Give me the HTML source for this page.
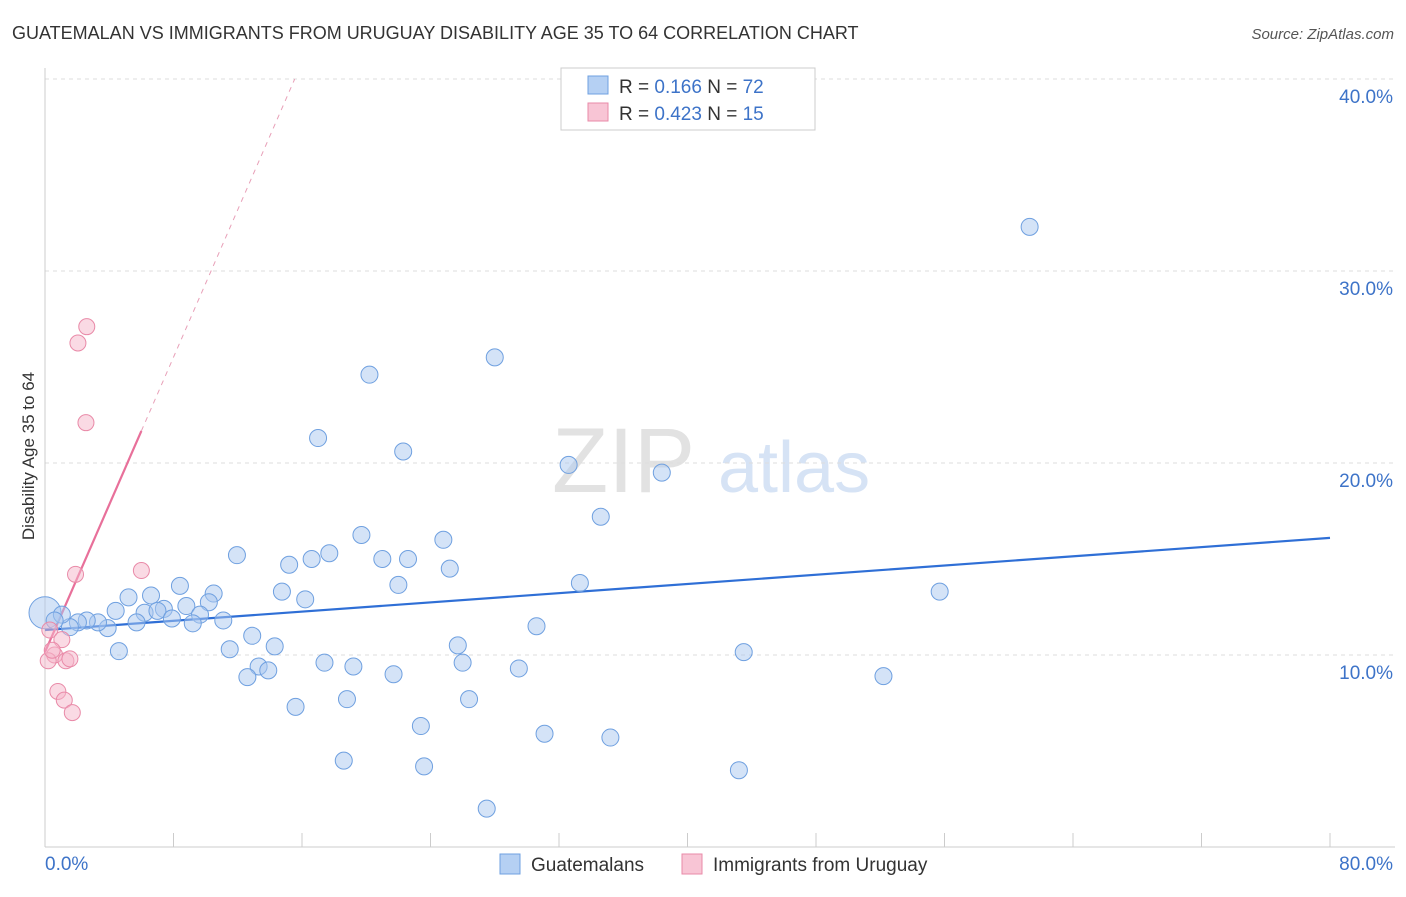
<!DOCTYPE html>
<html><head><meta charset="utf-8"><style>
body{margin:0;background:#fff;font-family:"Liberation Sans",sans-serif;}
svg text{font-family:"Liberation Sans",sans-serif;}
</style></head><body>
<svg id="chart" width="1406" height="892" xmlns="http://www.w3.org/2000/svg">
<text x="12" y="39" font-size="18" fill="#333">GUATEMALAN VS IMMIGRANTS FROM URUGUAY DISABILITY AGE 35 TO 64 CORRELATION CHART</text>
<text x="1394" y="39" font-size="15" fill="#555" text-anchor="end" font-style="italic">Source: ZipAtlas.com</text>
<g>
<text x="552" y="492" font-size="92" fill="#e2e2e2" font-family="Liberation Serif,serif">ZIP</text>
<text x="718" y="492" font-size="72" fill="#d6e3f5">atlas</text>
</g>
<g id="grid"></g>
<g id="axes"></g>
<g id="lines"></g>
<g id="points"></g>
<text transform="translate(34,456) rotate(-90)" font-size="17" fill="#333" text-anchor="middle">Disability Age 35 to 64</text>
<g>
<rect x="561" y="68" width="254" height="62" fill="#fff" stroke="#ccc"/>
<rect x="588" y="76" width="20" height="18" fill="#b5d0f3" stroke="#6fa0e0"/>
<rect x="588" y="103" width="20" height="18" fill="#f8c5d5" stroke="#e98aa8"/>
<text x="619" y="93" font-size="19" fill="#333">R = <tspan fill="#3d73c8">0.166</tspan>   N = <tspan fill="#3d73c8">72</tspan></text>
<text x="619" y="120" font-size="19" fill="#333">R = <tspan fill="#3d73c8">0.423</tspan>   N = <tspan fill="#3d73c8">15</tspan></text>
</g>
<g>
<rect x="500" y="854" width="20" height="20" fill="#b5d0f3" stroke="#6fa0e0"/>
<text x="531" y="871" font-size="19" fill="#333">Guatemalans</text>
<rect x="682" y="854" width="20" height="20" fill="#f8c5d5" stroke="#e98aa8"/>
<text x="713" y="871" font-size="19" fill="#333">Immigrants from Uruguay</text>
</g>
</svg>
<script>
const blueX=[61.3,28.0,20.2,17.0,22.3,32.6,38.4,34.6,19.7,24.8,11.95,17.7,16.6,15.2,21.0,22.6,25.2,33.3,22.0,8.4,14.75,10.5,55.7,16.2,5.2,6.6,10.2,4.4,6.2,7.4,8.8,7.0,7.9,9.65,11.1,5.7,9.2,3.9,3.3,2.6,2.05,1.55,1.05,0.6,30.6,12.9,14.3,25.7,4.6,11.5,43.5,17.4,19.2,26.0,29.5,13.3,13.9,21.7,12.6,52.2,18.8,26.4,15.6,23.4,31.1,35.2,18.6,23.6,43.2,27.5];
const blueY=[32.3,25.5,24.6,21.3,20.6,19.9,19.5,17.2,16.25,16.0,15.2,15.3,15.0,14.7,15.0,15.0,14.5,13.75,13.65,13.6,13.3,13.2,13.3,12.9,13.0,13.1,12.75,12.3,12.2,12.4,12.55,12.3,11.9,12.1,11.8,11.7,11.65,11.4,11.7,11.8,11.7,11.45,12.1,11.8,11.5,11.0,10.45,10.5,10.2,10.3,10.15,9.6,9.4,9.6,9.3,9.4,9.2,9.0,8.85,8.9,7.7,7.7,7.3,6.3,5.9,5.7,4.5,4.2,4.0,2.0];
const pinkX=[2.6,2.05,2.55,6.0,1.9,0.3,1.05,0.6,0.2,1.3,1.55,0.8,1.2,1.7,0.45];
const pinkY=[27.1,26.25,22.1,14.4,14.2,11.3,10.8,10.0,9.7,9.7,9.8,8.1,7.65,7.0,10.25];
const yTicks=[10,20,30,40];
const yTickLabels=["10.0%","20.0%","30.0%","40.0%"];
const xTicks=[0,8,16,24,32,40,48,56,64,72,80];
const blueTrend=[11.3,16.1];
const pinkTrend=[10.15,1.92];
const NS="http://www.w3.org/2000/svg";
const sx=v=>45+v*1285/80, sy=v=>847-v*19.2;
function mk(parent,tag,attrs){const e=document.createElementNS(NS,tag);for(const k in attrs)e.setAttribute(k,attrs[k]);document.getElementById(parent).appendChild(e);return e;}
yTicks.forEach((t,i)=>{
 const g=mk('grid','line',{x1:45,x2:1395,y1:sy(t),y2:sy(t),stroke:'#ddd','stroke-dasharray':'4,4'});
 
 
 const l=mk('axes','text',{x:1393,y:sy(t)+24,'font-size':19,fill:'#3d73c8','text-anchor':'end'});
 l.textContent=yTickLabels[i];
 
 
});
const ax=mk('axes','line',{x1:45,x2:1395,y1:847,y2:847,stroke:'#ccc'});


const ay=mk('axes','line',{x1:45,x2:45,y1:68,y2:847,stroke:'#ccc'});


xTicks.forEach(t=>{
 const k=mk('axes','line',{x1:sx(t),x2:sx(t),y1:833,y2:847,stroke:'#ccc'});
 
 
});
const x0=mk('axes','text',{x:45,y:870,'font-size':19,fill:'#3d73c8'});x0.textContent='0.0%';


const x1=mk('axes','text',{x:1393,y:870,'font-size':19,fill:'#3d73c8','text-anchor':'end'});x1.textContent='80.0%';


const bl=mk('lines','line',{x1:sx(0),y1:sy(blueTrend[0]),x2:sx(80),y2:sy(blueTrend[1]),stroke:'#2f6fd6','stroke-width':2.2});


const pxEnd=Math.max(...pinkX), pdEnd=(40-pinkTrend[0])/pinkTrend[1];
const pl=mk('lines','line',{x1:sx(0),y1:sy(pinkTrend[0]),x2:sx(pxEnd),y2:sy(pinkTrend[0]+pinkTrend[1]*pxEnd),stroke:'#e8709a','stroke-width':2.2});


const pd=mk('lines','line',{x1:sx(pxEnd),y1:sy(pinkTrend[0]+pinkTrend[1]*pxEnd),x2:sx(pdEnd),y2:sy(40),stroke:'#e8a0b8','stroke-width':1,'stroke-dasharray':'5,5'});


const big=mk('points','circle',{cx:sx(0),cy:sy(12.2),r:16,fill:'rgba(169,200,240,0.5)',stroke:'#6fa0e0'});


blueX.forEach((x,i)=>{
 const c=mk('points','circle',{cx:sx(x),cy:sy(blueY[i]),r:8.5,fill:'rgba(169,200,240,0.5)',stroke:'#6fa0e0','stroke-width':1});
 
 
});
pinkX.forEach((x,i)=>{
 const c=mk('points','circle',{cx:sx(x),cy:sy(pinkY[i]),r:8,fill:'rgba(246,182,201,0.5)',stroke:'#e98aa8','stroke-width':1});
 
 
});
</script>
</body></html>
